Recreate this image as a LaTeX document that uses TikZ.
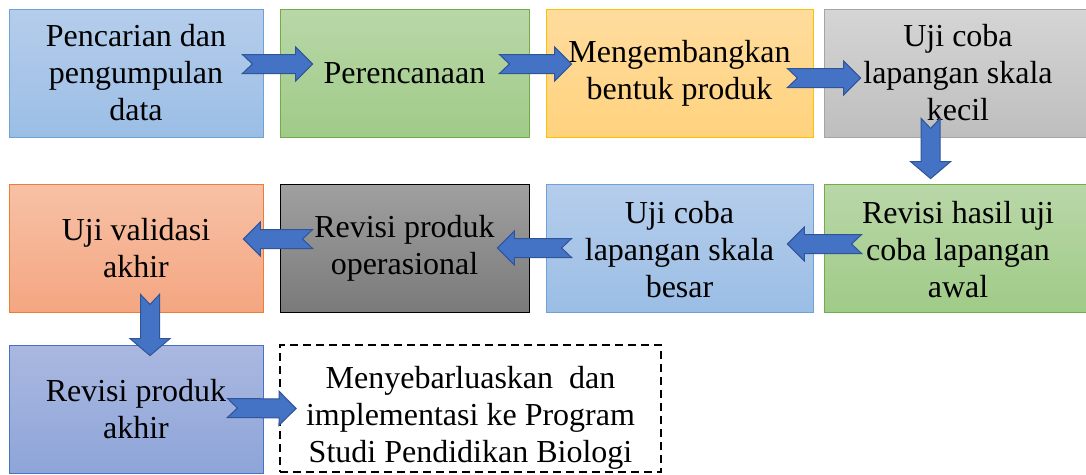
\documentclass[tikz,border=0pt]{standalone}
\usepackage{fontspec}
\setmainfont{Liberation Serif}
\usetikzlibrary{calc}

\definecolor{arrowblue}{HTML}{4472C4}
\definecolor{arrowedge}{HTML}{2F5597}

\tikzset{
    stepbox/.style={draw, line width=0.8pt, minimum height=128pt, inner sep=0pt,
        align=center, font=\fontsize{32}{37}\selectfont},
    bluebox/.style={top color={rgb,255:red,181;green,205;blue,235}, bottom color={rgb,255:red,155;green,190;blue,229}, draw={rgb,255:red,111;green,160;blue,216}},
    greenbox/.style={top color={rgb,255:red,185;green,215;blue,168}, bottom color={rgb,255:red,160;green,203;blue,136}, draw={rgb,255:red,112;green,173;blue,71}},
    goldbox/.style={top color={rgb,255:red,255;green,220;blue,158}, bottom color={rgb,255:red,255;green,210;blue,125}, draw={rgb,255:red,255;green,192;blue,0}},
    greybox/.style={top color={rgb,255:red,213;green,213;blue,213}, bottom color={rgb,255:red,190;green,190;blue,190}, draw={rgb,255:red,165;green,165;blue,165}},
    salmonbox/.style={top color={rgb,255:red,247;green,193;blue,166}, bottom color={rgb,255:red,244;green,166;blue,129}, draw={rgb,255:red,237;green,125;blue,49}},
    darkbox/.style={top color={rgb,255:red,160;green,160;blue,160}, bottom color={rgb,255:red,122;green,122;blue,122}, draw=black},
    violetbox/.style={top color={rgb,255:red,170;green,184;blue,224}, bottom color={rgb,255:red,142;green,165;blue,217}, draw={rgb,255:red,68;green,114;blue,196}},
    dashbox/.style={draw=black, line width=1.8pt, dash pattern=on 8pt off 5pt, fill=white},
}

% notched block arrow from #2 to #3, #1 = half width of the head
\newcommand{\blockarrow}[3][17]{%
    \filldraw[fill=arrowblue, draw=arrowedge, line width=1pt, line join=miter]
        let \p1=(#2), \p2=(#3), \n1={atan2(\y2-\y1,\x2-\x1)} in
        ($(\p1)+(\n1+90:9.5pt)$) -- ($(\p1)+(\n1:10pt)$) -- ($(\p1)+(\n1-90:9.5pt)$)
        -- ($(\p2)+(\n1+180:17pt)+(\n1-90:9.5pt)$) -- ($(\p2)+(\n1+180:17pt)+(\n1-90:#1pt)$)
        -- (\p2) -- ($(\p2)+(\n1+180:17pt)+(\n1+90:#1pt)$)
        -- ($(\p2)+(\n1+180:17pt)+(\n1+90:9.5pt)$) -- cycle;
}

\begin{document}
\begin{tikzpicture}[x=1pt, y=-1pt]
    \useasboundingbox (0,0) rectangle (1086,474);

    \node[stepbox, bluebox, minimum width=254pt] (b1) at (136,73) {Pencarian dan\\pengumpulan\\data};
    \node[stepbox, greenbox, minimum width=249pt] (b2) at (404.5,73) {Perencanaan};
    \node[stepbox, goldbox, minimum width=267pt] (b3) at (679.5,73) {Mengembangkan\\bentuk produk};
    \node[stepbox, greybox, minimum width=268pt] (b4) at (958,73) {Uji coba\\lapangan skala\\kecil};

    \node[stepbox, salmonbox, minimum width=254pt] (b5) at (136,248) {Uji validasi\\akhir};
    \node[stepbox, darkbox, minimum width=249pt] (b6) at (404.5,248) {Revisi produk\\operasional};
    \node[stepbox, bluebox, minimum width=267pt] (b7) at (679.5,248) {\rule{0pt}{26pt}Uji coba\\lapangan skala\\besar};
    \node[stepbox, greenbox, minimum width=268pt] (b8) at (958,248) {\rule{0pt}{26pt}Revisi hasil uji\\coba lapangan\\awal};

    \node[stepbox, violetbox, minimum width=254pt] (b9) at (136,409) {Revisi produk\\akhir};
    \node[stepbox, dashbox, minimum width=381pt, minimum height=127pt] (b10) at (470.5,408.5)
        {\rule{0pt}{40pt}Menyebarluaskan~ dan\\implementasi ke Program\\Studi Pendidikan Biologi};

    \blockarrow{$(b1.east)+(-21,-9)$}{$(b2.west)+(33,-9)$}
    \blockarrow{$(b2.east)+(-30,-9)$}{$(b3.west)+(26,-9)$}
    \blockarrow{$(b3.east)+(-26,5)$}{$(b4.west)+(37,5)$}
    \blockarrow[20]{$(b4.south west)+(107,-19)$}{$(b8.north west)+(107,-5)$}
    \blockarrow{$(b8.west)+(38,-4)$}{$(b7.east)+(-26,-4)$}
    \blockarrow{$(b7.west)+(26,0)$}{$(b6.east)+(-32,0)$}
    \blockarrow{$(b6.west)+(33,-9)$}{$(b5.east)+(-20,-9)$}
    \blockarrow[20]{$(b5.south)+(14,-18)$}{$(b9.north)+(14,11)$}
    \blockarrow{$(b9.east)+(-36,-1)$}{$(b10.west)+(17,0)$}
\end{tikzpicture}
\end{document}
